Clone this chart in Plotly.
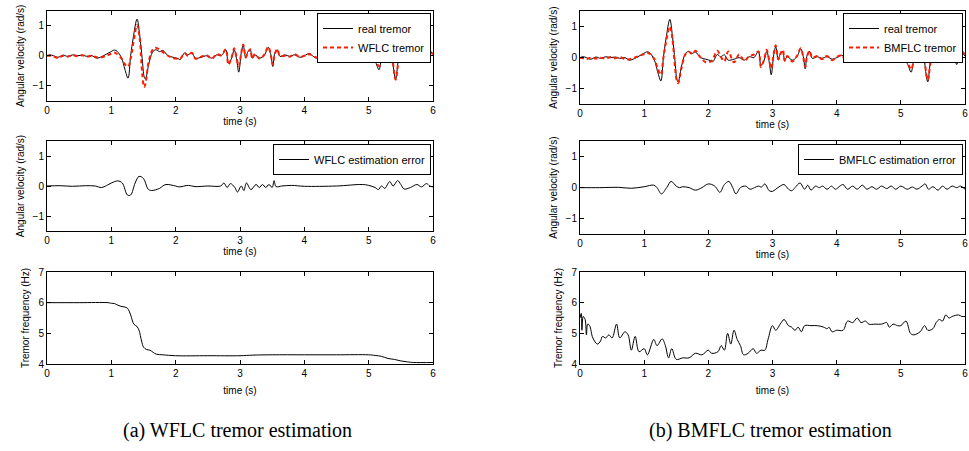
import plotly.graph_objects as go

# ---------------- data ----------------
t_tremor = [0.00, 0.05, 0.10, 0.17, 0.25, 0.32, 0.40, 0.48, 0.55, 0.62, 0.70, 0.77, 0.85, 0.92, 0.98,
            1.05, 1.09, 1.16, 1.21, 1.26, 1.30, 1.34, 1.40, 1.44, 1.48, 1.51, 1.53, 1.58, 1.64, 1.69,
            1.75, 1.80, 1.88, 1.96, 2.04, 2.07, 2.14, 2.19, 2.25, 2.31, 2.40, 2.48, 2.56, 2.64, 2.71,
            2.78, 2.82, 2.87, 2.91, 2.95, 2.98, 3.02, 3.05, 3.09, 3.12, 3.16, 3.19, 3.23, 3.31, 3.38,
            3.44, 3.48, 3.51, 3.54, 3.58, 3.62, 3.70, 3.77, 3.85, 3.93, 4.00, 4.08, 4.11, 4.19, 4.27,
            4.35, 4.42, 4.50, 4.58, 4.66, 4.74, 4.81, 4.89, 4.97, 5.04, 5.10, 5.16, 5.19, 5.23, 5.28,
            5.33, 5.37, 5.42, 5.47, 5.51, 5.56, 5.63, 5.68, 5.72, 5.77, 5.82, 5.87, 5.93, 6.00]

real_tremor = [0.0, 0.03, 0.0, -0.05, 0.02, -0.02, 0.03, 0.0, 0.02, -0.02, 0.0, -0.08, -0.03, 0.05, 0.12,
               0.19, 0.15, -0.08, -0.45, -0.75, 0.0, 0.6, 1.23, 0.7, -0.1, -0.7, -0.78, -0.3, 0.12, 0.2,
               0.14, 0.18, 0.0, -0.05, -0.1, -0.13, 0.1, 0.03, 0.09, -0.08, -0.05, 0.0, -0.08, 0.03, 0.0,
               0.2, -0.25, -0.08, 0.2, -0.15, -0.55, 0.1, 0.35, -0.08, 0.12, 0.2, -0.08, 0.03, -0.08, 0.03,
               0.28, 0.03, -0.36, 0.08, 0.2, -0.02, 0.03, -0.02, 0.03, -0.05, 0.0, 0.08, 0.03, -0.08, 0.01,
               -0.05, 0.03, -0.02, 0.03, 0.0, 0.06, 0.03, 0.11, 0.03, -0.08, -0.19, -0.47, -0.2, 0.15, 0.45,
               0.6, -0.15, -0.78, -0.08, 0.03, -0.08, 0.2, 0.03, 0.15, -0.08, 0.2, -0.22, 0.2, 0.05]

wflc_tremor = [0.0, 0.0, -0.02, -0.08, 0.0, -0.03, 0.02, -0.02, 0.02, -0.03, 0.0, -0.05, -0.05, 0.0, 0.05,
               0.1, 0.06, -0.1, -0.28, -0.37, -0.1, 0.4, 1.03, 0.6, -0.6, -1.05, -0.95, -0.2, 0.2, 0.27,
               0.2, 0.12, 0.0, -0.08, -0.1, -0.1, 0.08, 0.0, 0.1, -0.1, -0.03, 0.02, -0.1, 0.05, 0.02,
               0.22, -0.3, -0.05, 0.25, -0.1, -0.35, 0.1, 0.38, -0.05, 0.1, 0.22, -0.1, 0.05, -0.1, 0.05,
               0.3, 0.0, -0.3, 0.05, 0.22, 0.0, 0.0, -0.03, 0.05, -0.05, 0.0, 0.05, 0.02, -0.06, 0.0,
               -0.05, 0.02, -0.02, 0.02, -0.02, 0.05, 0.02, 0.1, 0.03, -0.05, -0.15, -0.35, -0.25, 0.1, 0.4,
               0.55, -0.1, -0.8, -0.15, 0.0, -0.05, 0.2, 0.05, 0.12, -0.1, 0.15, -0.2, 0.15, 0.05]

bmflc_tremor = [0.0, -0.02, -0.05, 0.0, -0.03, 0.0, -0.03, 0.02, -0.02, 0.02, -0.05, -0.05, 0.0, 0.05, 0.1,
                0.15, 0.12, -0.05, -0.35, -0.55, 0.0, 0.5, 1.0, 0.6, -0.3, -0.75, -0.82, -0.35, 0.1, 0.2,
                0.12, 0.22, 0.0, -0.15, -0.12, -0.05, 0.22, 0.05, -0.12, 0.2, -0.15, 0.1, -0.1, 0.05, 0.1,
                0.2, -0.3, -0.05, 0.25, -0.1, -0.35, 0.15, 0.4, -0.05, 0.1, 0.25, -0.1, 0.05, -0.12, 0.05,
                0.3, 0.0, -0.3, 0.05, 0.22, 0.0, 0.05, -0.05, 0.05, -0.08, 0.02, 0.08, 0.0, -0.08, 0.05,
                -0.03, 0.05, -0.03, 0.05, 0.0, 0.08, 0.02, 0.12, 0.02, -0.05, -0.15, -0.38, -0.2, 0.15, 0.4,
                0.55, -0.1, -0.72, -0.1, 0.05, -0.05, 0.22, 0.05, 0.15, -0.08, 0.18, -0.15, 0.22, 0.1]

t_err_wflc = [0.0, 0.2, 0.4, 0.6, 0.75, 0.85, 1.0, 1.1, 1.17, 1.25, 1.3, 1.37, 1.43, 1.5, 1.57, 1.62,
              1.75, 1.8, 1.85, 2.0, 2.05, 2.2, 2.3, 2.5, 2.7, 2.75, 2.8, 2.85, 2.92, 2.96, 3.02, 3.06,
              3.1, 3.17, 3.25, 3.3, 3.35, 3.4, 3.45, 3.5, 3.53, 3.56, 3.65, 3.8, 4.0, 4.5, 4.9, 5.0,
              5.1, 5.15, 5.2, 5.25, 5.3, 5.33, 5.38, 5.45, 5.5, 5.55, 5.65, 5.75, 5.82, 5.9, 5.95, 6.0]
err_wflc = [0.0, 0.01, -0.01, 0.01, 0.0, -0.05, 0.1, 0.17, 0.1, -0.3, -0.3, 0.1, 0.32, 0.25, -0.1, -0.15,
            -0.08, 0.0, 0.05, 0.0, -0.03, 0.02, -0.02, 0.0, 0.0, 0.1, -0.05, 0.08, -0.05, -0.2, 0.0, -0.15,
            0.1, -0.12, 0.05, -0.05, 0.05, -0.05, 0.05, -0.05, 0.18, -0.02, 0.0, 0.02, -0.01, 0.0, 0.05, 0.02,
            -0.05, -0.12, 0.0, -0.08, 0.08, 0.15, 0.0, 0.18, 0.05, -0.1, -0.05, 0.05, -0.03, 0.08, 0.0, -0.03]

t_err_bmflc = [0.0, 0.3, 0.6, 0.8, 1.0, 1.15, 1.2, 1.27, 1.35, 1.42, 1.5, 1.55, 1.6, 1.7, 1.8, 1.9,
               2.0, 2.1, 2.18, 2.25, 2.32, 2.38, 2.43, 2.5, 2.58, 2.65, 2.72, 2.78, 2.83, 2.88, 2.95, 3.0,
               3.05, 3.12, 3.18, 3.25, 3.3, 3.35, 3.43, 3.5, 3.55, 3.6, 3.67, 3.73, 3.78, 3.85, 3.92, 3.98,
               4.05, 4.1, 4.17, 4.25, 4.32, 4.4, 4.47, 4.55, 4.62, 4.7, 4.78, 4.85, 4.92, 5.0, 5.1, 5.18,
               5.25, 5.33, 5.38, 5.43, 5.5, 5.58, 5.65, 5.72, 5.8, 5.87, 5.93, 6.0]
err_bmflc = [0.0, 0.0, 0.01, -0.02, 0.03, 0.08, 0.0, -0.2, 0.0, 0.2, 0.05, 0.0, 0.03, 0.0, -0.08, 0.0,
             0.12, 0.05, -0.15, 0.1, 0.2, 0.0, -0.2, 0.0, 0.05, -0.05, 0.0, 0.05, 0.02, 0.12, -0.1, -0.12,
             -0.05, 0.05, 0.1, -0.05, -0.1, 0.0, 0.15, -0.05, 0.08, -0.08, 0.05, 0.0, 0.05, -0.05, 0.05, -0.05,
             0.05, 0.1, -0.05, 0.05, -0.05, 0.08, -0.05, 0.03, -0.05, 0.05, -0.03, 0.05, -0.05, 0.05, -0.05, 0.02,
             -0.05, 0.05, 0.12, -0.05, 0.03, -0.08, 0.05, -0.05, 0.05, 0.0, 0.05, -0.05]

t_freq_wflc = [0.0, 0.5, 0.95, 1.0, 1.05, 1.1, 1.15, 1.2, 1.25, 1.3, 1.35, 1.4, 1.43, 1.47, 1.5, 1.55,
               1.6, 1.65, 1.7, 1.8, 2.0, 2.5, 3.0, 3.2, 3.5, 4.0, 4.5, 5.0, 5.1, 5.2, 5.3, 5.4,
               5.5, 5.6, 5.7, 6.0]
freq_wflc = [6.0, 6.0, 6.0, 5.98, 5.97, 5.92, 5.88, 5.86, 5.82, 5.6, 5.3, 5.22, 5.1, 4.75, 4.55, 4.47,
             4.45, 4.38, 4.32, 4.3, 4.27, 4.27, 4.27, 4.29, 4.3, 4.3, 4.3, 4.3, 4.28, 4.25, 4.18, 4.15,
             4.1, 4.07, 4.05, 4.05]

t_freq_bmflc = [0.0, 0.02, 0.03, 0.05, 0.08, 0.1, 0.12, 0.15, 0.2, 0.27, 0.32, 0.35, 0.4, 0.45, 0.5, 0.57,
                0.62, 0.7, 0.75, 0.8, 0.86, 0.92, 1.0, 1.05, 1.15, 1.2, 1.28, 1.33, 1.38, 1.43, 1.5, 1.6,
                1.7, 1.8, 1.9, 2.0, 2.05, 2.15, 2.2, 2.25, 2.3, 2.35, 2.4, 2.45, 2.5, 2.55, 2.62, 2.7,
                2.75, 2.82, 2.88, 2.93, 3.0, 3.05, 3.12, 3.18, 3.25, 3.3, 3.35, 3.4, 3.45, 3.5, 3.6, 3.7,
                3.8, 3.85, 3.88, 3.93, 4.0, 4.1, 4.17, 4.25, 4.32, 4.38, 4.45, 4.5, 4.6, 4.7, 4.78, 4.82,
                4.88, 4.95, 5.0, 5.08, 5.15, 5.2, 5.3, 5.37, 5.42, 5.5, 5.55, 5.6, 5.65, 5.7, 5.75, 5.8,
                5.9, 5.95, 6.0]
freq_bmflc = [5.5, 5.65, 5.1, 5.55, 5.45, 4.95, 5.3, 5.25, 4.85, 4.65, 4.75, 4.9, 4.85, 4.95, 4.85, 5.3,
              4.85, 5.05, 4.95, 4.45, 4.9, 4.4, 4.5, 4.3, 4.8, 4.6, 4.82, 4.6, 4.2, 4.5, 4.15, 4.2,
              4.2, 4.35, 4.3, 4.45, 4.35, 4.4, 4.6, 4.45, 5.0, 4.65, 5.1, 4.8, 4.6, 4.3, 4.35, 4.5,
              4.35, 4.45, 4.45, 4.8, 5.25, 5.1, 5.3, 5.45, 5.25, 5.2, 5.1, 5.2, 5.05, 5.25, 5.25, 5.25,
              5.2, 5.15, 5.2, 5.05, 5.1, 5.1, 5.4, 5.35, 5.5, 5.35, 5.4, 5.3, 5.3, 5.3, 5.35, 5.2,
              5.3, 5.25, 5.25, 5.4, 5.0, 4.95, 5.05, 5.25, 5.1, 5.15, 5.35, 5.45, 5.4, 5.6, 5.5, 5.55,
              5.6, 5.55, 5.55]

x_ticks = [0, 1, 2, 3, 4, 5, 6]
vel_ticks = [-1, 0, 1]
freq_ticks = [4, 5, 6, 7]

# ---------------- figure ----------------
W, H = 969, 451
FONT = "Liberation Sans"
fig = go.Figure()

BLACK = dict(color="black", width=1)
RED = dict(color="#ff1a00", width=2, dash="4px,3px")

fig.add_trace(go.Scatter(x=t_tremor, y=real_tremor, mode="lines", line=dict(**BLACK, shape="spline"),
                         name="real tremor", xaxis="x", yaxis="y", legend="legend"))
fig.add_trace(go.Scatter(x=t_tremor, y=wflc_tremor, mode="lines", line=dict(**RED, shape="spline"),
                         name="WFLC tremor", xaxis="x", yaxis="y", legend="legend"))
fig.add_trace(go.Scatter(x=t_tremor, y=real_tremor, mode="lines", line=dict(**BLACK, shape="spline"),
                         name="real tremor", xaxis="x2", yaxis="y2", legend="legend2"))
fig.add_trace(go.Scatter(x=t_tremor, y=bmflc_tremor, mode="lines", line=dict(**RED, shape="spline"),
                         name="BMFLC tremor", xaxis="x2", yaxis="y2", legend="legend2"))
fig.add_trace(go.Scatter(x=t_err_wflc, y=err_wflc, mode="lines", line=dict(**BLACK, shape="spline"),
                         name="WFLC estimation error", xaxis="x3", yaxis="y3", legend="legend3"))
fig.add_trace(go.Scatter(x=t_err_bmflc, y=err_bmflc, mode="lines", line=dict(**BLACK, shape="spline"),
                         name="BMFLC estimation error", xaxis="x4", yaxis="y4", legend="legend4"))
fig.add_trace(go.Scatter(x=t_freq_wflc, y=freq_wflc, mode="lines", line=dict(**BLACK, shape="spline"),
                         showlegend=False, xaxis="x5", yaxis="y5"))
fig.add_trace(go.Scatter(x=t_freq_bmflc, y=freq_bmflc, mode="lines", line=dict(**BLACK, shape="spline"),
                         showlegend=False, xaxis="x6", yaxis="y6"))

def px_x(a, b):
    return [a / W, b / W]

def px_y(top, bottom):
    return [1 - bottom / H, 1 - top / H]

common = dict(showline=True, linecolor="black", linewidth=1, mirror="ticks", ticks="inside",
              ticklen=4, tickcolor="black", showgrid=False, zeroline=False, automargin=False,
              tickfont=dict(family=FONT, size=10, color="black"))

xdom_l, xdom_r = px_x(47, 433), px_x(580, 965)
ydoms = {1: px_y(11, 100.5), 2: px_y(11, 104.3), 3: px_y(141, 231), 4: px_y(141, 234.3),
         5: px_y(272, 364), 6: px_y(272, 364)}

layout = {}
for i in range(1, 7):
    sx = "" if i == 1 else str(i)
    layout["xaxis" + sx] = dict(common, domain=xdom_l if i % 2 == 1 else xdom_r, range=[0, 6],
                                tickvals=x_ticks, anchor="y" + sx,
                                title=dict(text="time (s)", font=dict(family=FONT, size=10, color="black"),
                                           standoff=2 if i <= 4 else 8))
    if i <= 4:
        layout["yaxis" + sx] = dict(common, domain=ydoms[i], range=[-1.5, 1.5], tickvals=vel_ticks,
                                    anchor="x" + sx,
                                    title=dict(text="Angular velocity (rad/s)",
                                               font=dict(family=FONT, size=10, color="black"), standoff=6))
    else:
        layout["yaxis" + sx] = dict(common, domain=ydoms[i], range=[4, 7], tickvals=freq_ticks,
                                    anchor="x" + sx,
                                    title=dict(text="Tremor frequency (Hz)",
                                               font=dict(family=FONT, size=10, color="black"), standoff=6))

leg_common = dict(bgcolor="white", bordercolor="black", borderwidth=1, xanchor="right", yanchor="top",
                  font=dict(family=FONT, size=11, color="black"), tracegroupgap=0, itemwidth=30)
layout["legend"] = dict(leg_common, x=431 / W, y=1 - 13 / H)
layout["legend2"] = dict(leg_common, x=963 / W, y=1 - 13 / H)
layout["legend3"] = dict(leg_common, x=431 / W, y=1 - 144 / H)
layout["legend4"] = dict(leg_common, x=963 / W, y=1 - 144 / H)

fig.update_layout(**layout)
fig.update_layout(width=W, height=H, margin=dict(l=0, r=0, t=0, b=0, pad=0, autoexpand=False),
                  paper_bgcolor="white", plot_bgcolor="white", showlegend=True,
                  annotations=[
                      dict(text="(a) WFLC tremor estimation", x=237 / W, y=1 - 430 / H, xref="paper",
                           yref="paper", showarrow=False, xanchor="center", yanchor="middle",
                           font=dict(family="Liberation Serif", size=20, color="black")),
                      dict(text="(b) BMFLC tremor estimation", x=770 / W, y=1 - 430 / H, xref="paper",
                           yref="paper", showarrow=False, xanchor="center", yanchor="middle",
                           font=dict(family="Liberation Serif", size=20, color="black")),
                  ])

fig.write_html("out.html", config={"displayModeBar": False},
               post_script="document.body.style.margin='0';document.body.style.overflow='hidden';")
